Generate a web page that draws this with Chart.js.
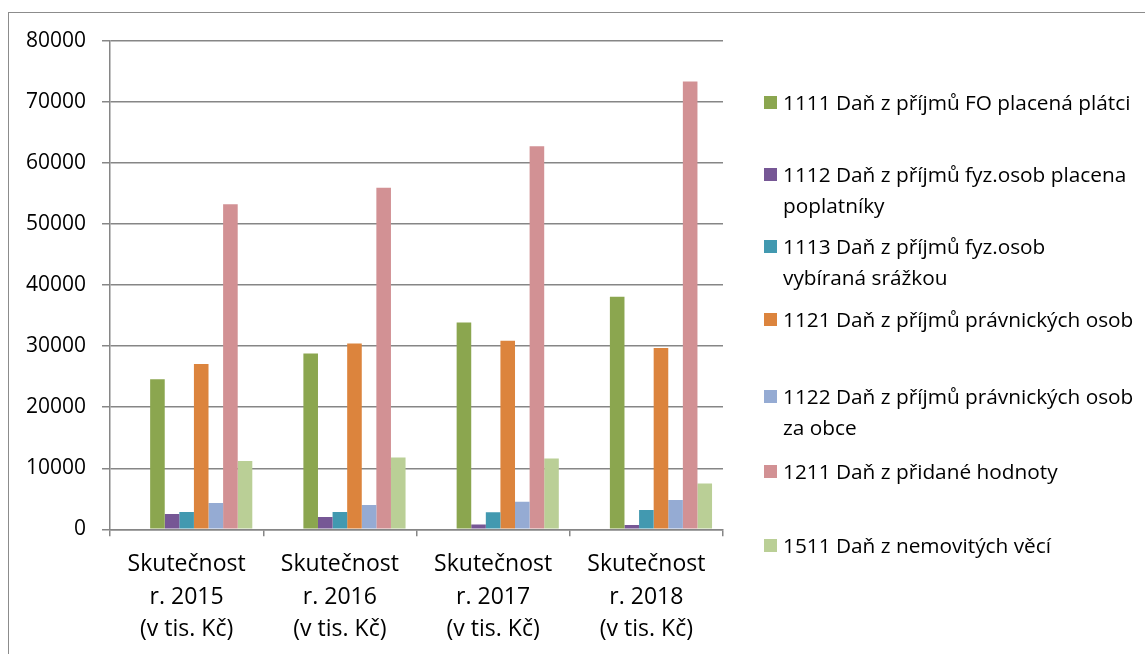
<!DOCTYPE html>
<html lang="cs">
<head>
<meta charset="utf-8">
<title>Daňové příjmy</title>
<script src="https://cdn.jsdelivr.net/npm/chart.js@4/dist/chart.umd.min.js"></script>
<style>
  html, body { margin:0; padding:0; background:#fff; }
  body { width:1145px; height:654px; position:relative; overflow:hidden; font-family:"Open Sans", sans-serif; }
  #frame { position:absolute; left:8px; top:12px; width:1200px; height:700px; border:1px solid #8c8c8c; box-sizing:border-box; }
  #chart { position:absolute; left:0; top:0; }
  #legend { position:absolute; left:764px; top:0; width:380px; }
  .item { position:absolute; left:0; width:380px; font-size:20.8px; line-height:31px; color:#000; }
  .item .box { position:absolute; left:0; top:9px; width:13px; height:13px; }
  .item .txt { margin-left:19px; white-space:nowrap; }
</style>
</head>
<body>
<div id="frame"></div>
<canvas id="chart" width="1145" height="654"></canvas>
<div id="legend"></div>

<script>
// ---------- Data ----------
const categories = [
  ['Skutečnost', 'r. 2015', '(v tis. Kč)'],
  ['Skutečnost', 'r. 2016', '(v tis. Kč)'],
  ['Skutečnost', 'r. 2017', '(v tis. Kč)'],
  ['Skutečnost', 'r. 2018', '(v tis. Kč)']
];

// legend names, split the way the legend wraps them
const seriesNames = [
  ['1111 Daň z příjmů FO placená plátci'],
  ['1112 Daň z příjmů fyz.osob placena', 'poplatníky'],
  ['1113 Daň z příjmů fyz.osob', 'vybíraná srážkou'],
  ['1121 Daň z příjmů právnických osob'],
  ['1122 Daň z příjmů právnických osob', 'za obce'],
  ['1211 Daň z přidané hodnoty'],
  ['1511 Daň z nemovitých věcí']
];

const dan1111 = [24600, 28800, 33900, 38100];
const dan1112 = [2500, 2000, 800, 700];
const dan1113 = [2850, 2850, 2800, 3150];
const dan1121 = [27100, 30450, 30900, 29700];
const dan1122 = [4300, 4000, 4500, 4800];
const dan1211 = [53250, 55950, 62750, 73350];
const dan1511 = [11200, 11750, 11600, 7500];

const yTicks = [0, 10000, 20000, 30000, 40000, 50000, 60000, 70000, 80000];

const colors = ['#8ba64f', '#765795', '#4299b0', '#dc843d', '#95abd3', '#d29194', '#bacf96'];

// legend item tops (px from top of page)
const legendTops = [87, 159, 231, 304, 381, 456, 530];

// ---------- Chart ----------
const seriesValues = [dan1111, dan1112, dan1113, dan1121, dan1122, dan1211, dan1511];

// the source chart has two empty series in front, they keep their slot in each group
const datasets = [
  { label: '', data: [null, null, null, null], backgroundColor: 'transparent' },
  { label: '', data: [null, null, null, null], backgroundColor: 'transparent' }
];
seriesValues.forEach((vals, i) => {
  datasets.push({
    label: seriesNames[i].join(' '),
    data: vals,
    backgroundColor: colors[i],
    borderWidth: 0
  });
});

const gridColor = '#868686';

const chart = new Chart(document.getElementById('chart'), {
  type: 'bar',
  data: { labels: categories, datasets },
  options: {
    responsive: false,
    animation: false,
    categoryPercentage: 9 / 10.5,
    barPercentage: 1,
    layout: { padding: { left: 0, right: 422, top: 41, bottom: 0 } },
    plugins: {
      legend: { display: false },
      tooltip: { enabled: false }
    },
    scales: {
      x: {
        grid: { offset: true, drawOnChartArea: false, drawTicks: true, tickLength: 7, color: gridColor, lineWidth: 1.5 },
        border: { display: true, color: gridColor, width: 1.5 },
        ticks: { color: '#000', padding: 12, font: { family: 'Open Sans', size: 23, lineHeight: 1.42 } },
        afterFit: s => { s.height = 124.7; }
      },
      y: {
        min: 0, max: 80000,
        afterBuildTicks: s => { s.ticks = yTicks.map(v => ({ value: v })); },
        grid: { color: gridColor, lineWidth: 1.5, tickLength: 8 },
        border: { display: true, color: gridColor, width: 1.5 },
        ticks: { color: '#000', padding: 16, font: { family: 'Open Sans', size: 21 }, callback: v => String(v) },
        afterFit: s => { s.width = 110; }
      }
    }
  }
});

// ---------- Legend (html, built from the chart datasets) ----------
const legendEl = document.getElementById('legend');
chart.data.datasets.filter(d => d.label).forEach((d, i) => {
  const div = document.createElement('div');
  div.className = 'item';
  div.style.top = legendTops[i] + 'px';
  div.innerHTML = '<span class="box" style="background:' + d.backgroundColor + '"></span>' +
    '<div class="txt">' + seriesNames[i].join('<br>') + '</div>';
  legendEl.appendChild(div);
});
</script>
</body>
</html>
